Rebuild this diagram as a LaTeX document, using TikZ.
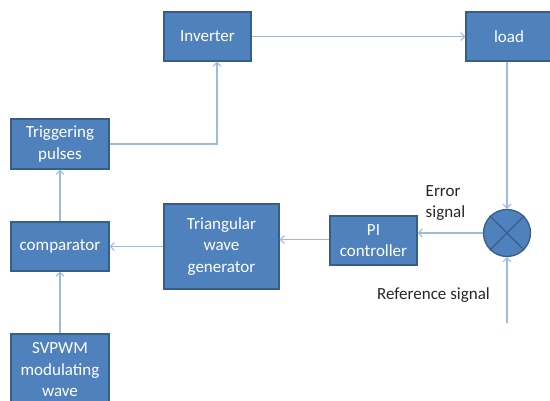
\documentclass[tikz,border=0pt]{standalone}
\usepackage{fontspec}
\setmainfont{Carlito}
\usetikzlibrary{arrows.meta}
\definecolor{boxblue}{RGB}{79,129,189}
\definecolor{boxedge}{RGB}{56,93,138}
\definecolor{wireblue}{RGB}{155,187,225}

\begin{document}
\begin{tikzpicture}[x=1pt,y=1pt,
	block/.style={draw=boxedge,fill=boxblue,line width=1.3pt,text=white,align=center,font=\fontsize{17}{21.5}\selectfont,inner sep=0pt},
	wire/.style={wireblue,line width=1.4pt,-{Straight Barb[length=4pt,width=8pt,line width=1pt]}},
	plain/.style={wireblue,line width=1.4pt},
	lbl/.style={text=black!85,align=left,font=\fontsize{17}{21}\selectfont,inner sep=0pt}]
		\useasboundingbox (0,0) rectangle (550,-401);
		% blocks
		\node[block,minimum width=87,minimum height=49] (inv) at (207.5,-36.5) {Inverter};
		\node[block,minimum width=86,minimum height=49] (load) at (509,-36.5) {load};
		\node[block,minimum width=98,minimum height=50] (trig) at (60,-144) {Triggering\\pulses};
		\node[block,minimum width=98,minimum height=49] (comp) at (60,-246.5) {comparator};
		\node[block,minimum width=115,minimum height=85] (tri) at (221.5,-246.5) {Triangular\\wave\\generator};
		\node[block,minimum width=87,minimum height=49] (pi) at (373.5,-240.5) {PI\\controller};
		\node[block,minimum width=98,minimum height=72] (svpwm) at (60,-370) {SVPWM\\modulating\\wave};
		\node[draw=boxedge,fill=boxblue,line width=1.3pt,circle,minimum size=47,inner sep=0pt] (sum) at (507,-233) {};
		\draw[boxedge,line width=1.3pt] (sum.north west) -- (sum.south east);
		\draw[boxedge,line width=1.3pt] (sum.north east) -- (sum.south west);
		% labels
		\node[lbl] (err) at (445.5,-203.5) {Error\\signal};
		\node[lbl] (reflbl) at (433.5,-295) {Reference signal};
		\coordinate (ref) at (507,-323);
		\coordinate (tap) at (217,-144);
		% connectors
		\draw[wire] (inv.east) -- (load.west);
		\draw[wire] (sum.north |- load.south) -- (sum.north);
		\draw[wire] (sum.west) -- (sum.west -| pi.east);
		\draw[wire] ([yshift=1pt]pi.west) -- ([yshift=1pt]pi.west -| tri.east);
		\draw[wire] (tri.west) -- (comp.east);
		\draw[wire] (svpwm.north) -- (comp.north |- comp.south);
		\draw[wire] (comp.north) -- (trig.south);
		\draw[wire] (trig.east) -- (tap) -- (tap |- inv.south);
		\draw[wire] (ref) -- (sum.south);
	\end{tikzpicture}
\end{document}
